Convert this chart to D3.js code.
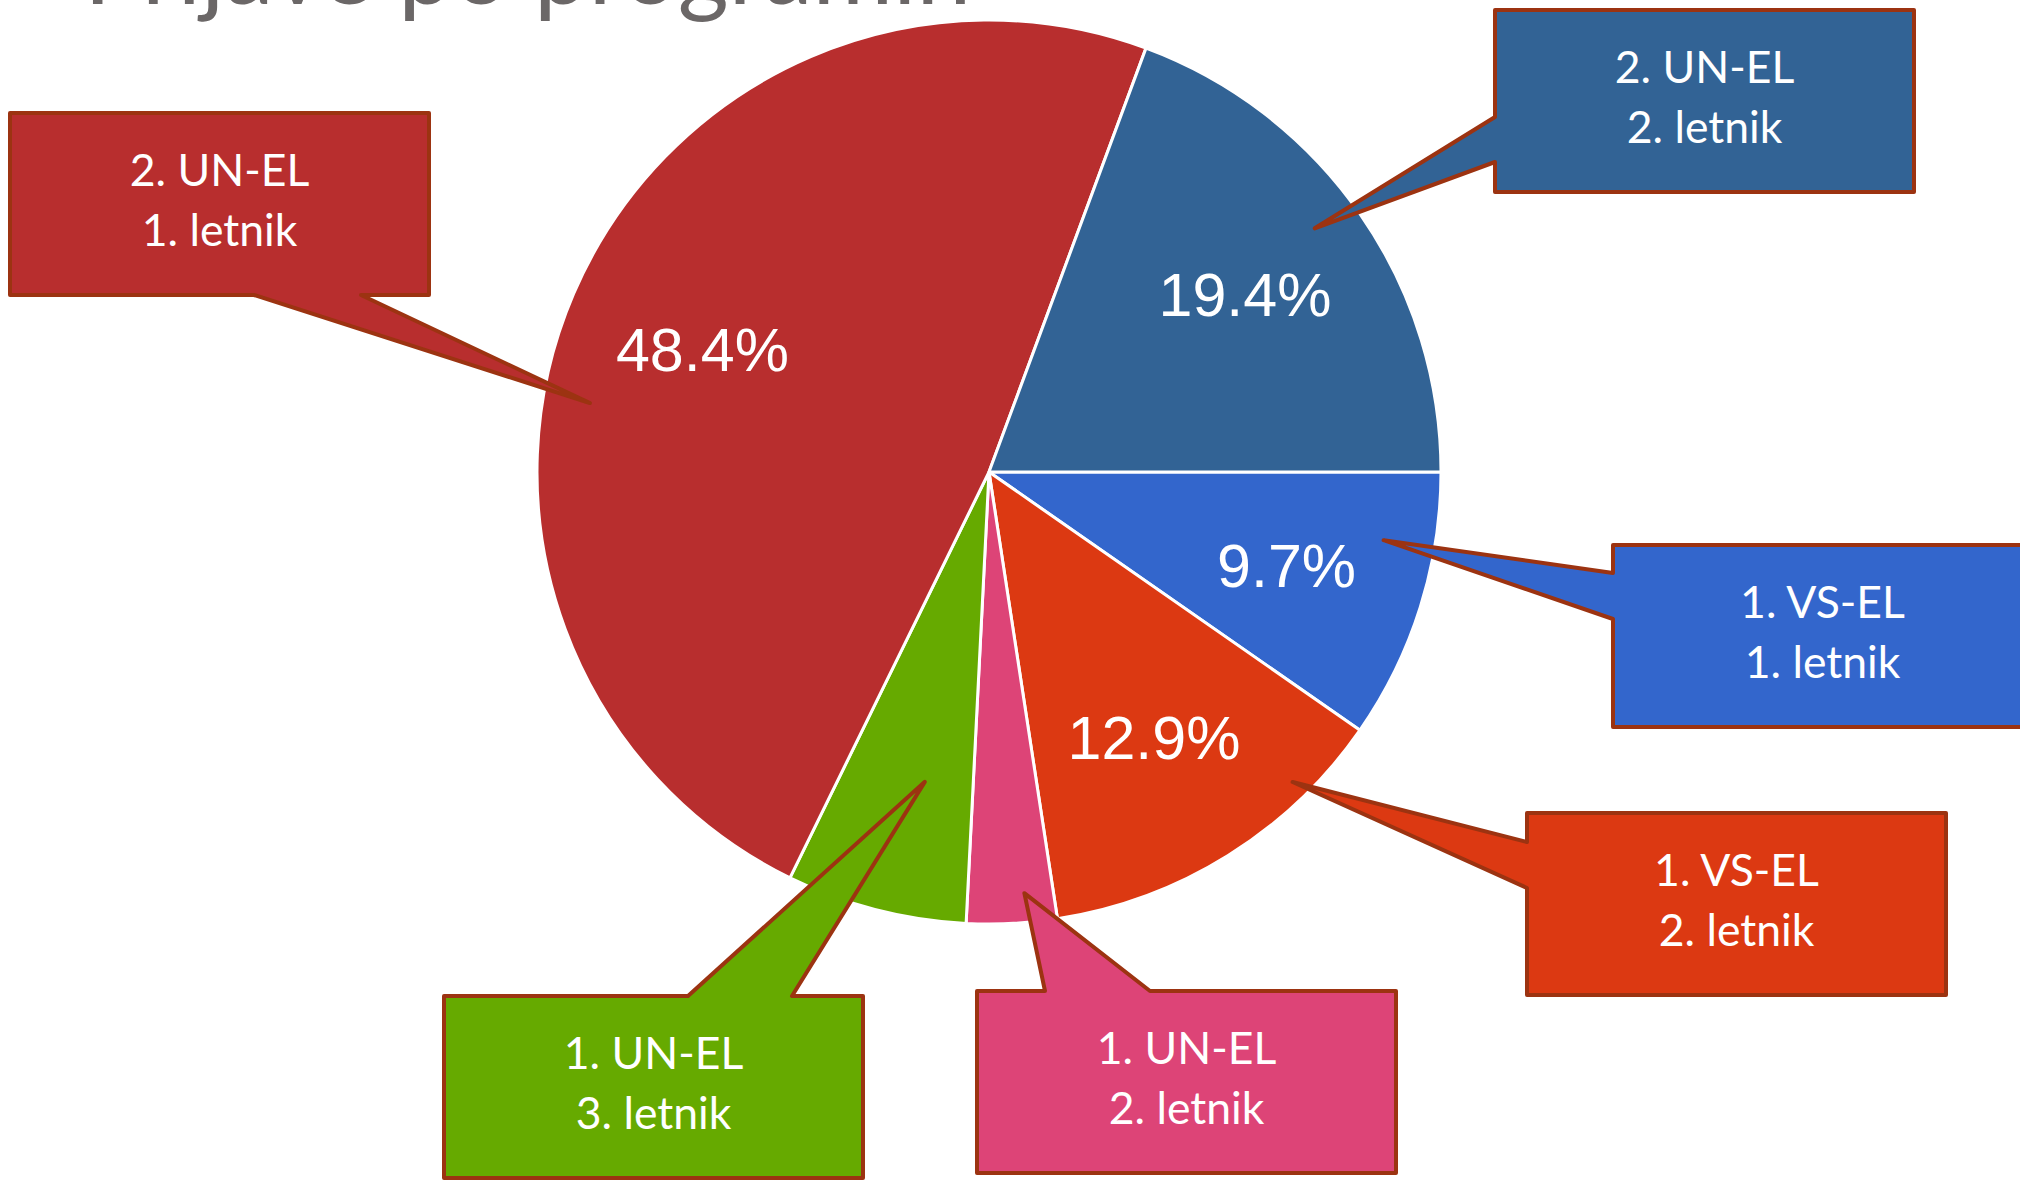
<!DOCTYPE html>
<html>
<head>
<meta charset="utf-8">
<script src="https://cdn.jsdelivr.net/npm/d3@7"></script>
<style>
  html, body { margin: 0; padding: 0; background: #ffffff; }
  svg { display: block; }
</style>
</head>
<body>
<script>
// ---------------- DATA ----------------
const programs = ["1. VS-EL", "1. VS-EL", "1. UN-EL", "1. UN-EL", "2. UN-EL", "2. UN-EL"];
const years    = ["1. letnik", "2. letnik", "2. letnik", "3. letnik", "1. letnik", "2. letnik"];
const counts   = [3, 4, 1, 2, 15, 6];
const colors   = ["#3366cc", "#dc3912", "#dd4477", "#66aa00", "#b82e2e", "#326395"];
const titleText = "Prijave po programih";

// ---------------- LAYOUT ----------------
const W = 2020, H = 1180;
const cx = 989, cy = 472, R = 452;
const boxW = 419, boxH = 182;
// callout boxes: position, side of the pointer, pointer base, tip in pie polar coords (deg clockwise from 12, fraction of R)
const calloutX    = [1613, 1527, 977, 444, 10, 1495];
const calloutY    = [545, 813, 991, 996, 113, 10];
const calloutSide = ["left", "left", "top", "top", "bottom", "left"];
const calloutB0   = [573, 842, 1045, 688, 254, 117];
const calloutB1   = [619, 888, 1150, 792, 361, 162];
const tipAngle    = [99.8, 135.6, 175.2, 191.7, 279.8, 53.2];
const tipRadius   = [0.886, 0.96, 0.935, 0.70, 0.896, 0.90];

const total = d3.sum(counts);
const data = counts.map((v, i) => ({ i, value: v, program: programs[i], year: years[i], color: colors[i] }));

const svg = d3.select("body").append("svg")
  .attr("width", W).attr("height", H)
  .attr("viewBox", `0 0 ${W} ${H}`);

// title (cut off at the top of the frame, as in the reference)
svg.append("text")
  .attr("x", 84).attr("y", 4)
  .attr("font-family", "Lato, 'Open Sans', sans-serif")
  .attr("font-weight", 400)
  .attr("font-size", 98)
  .attr("fill", "#6b6767")
  .text(titleText);

const pie = d3.pie().sort(null).value(d => d.value)
  .startAngle(Math.PI / 2).endAngle(Math.PI / 2 + 2 * Math.PI);
const arcs = pie(data);
const arc = d3.arc().innerRadius(0).outerRadius(R);
const labelArc = d3.arc().innerRadius(R * 0.69).outerRadius(R * 0.69);

const g = svg.append("g").attr("transform", `translate(${cx},${cy})`);
g.selectAll("path.slice").data(arcs).join("path")
  .attr("class", "slice")
  .attr("d", arc)
  .attr("fill", d => d.data.color)
  .attr("stroke", "#ffffff")
  .attr("stroke-width", 3)
  .attr("stroke-linejoin", "round");

const fmt = d3.format(".1%");
const fs = 61;
g.selectAll("text.pct").data(arcs.filter(d => d.data.value / total >= 0.08)).join("text")
  .attr("class", "pct")
  .attr("x", d => labelArc.centroid(d)[0])
  .attr("y", d => labelArc.centroid(d)[1] + fs * 0.358)
  .attr("text-anchor", "middle")
  .attr("font-family", "'Liberation Sans', Arial, sans-serif")
  .attr("font-size", fs)
  .attr("fill", "#ffffff")
  .text(d => fmt(d.data.value / total));

// callouts
function tipPoint(i) {
  const a = tipAngle[i] * Math.PI / 180;
  const r = tipRadius[i] * R;
  return [cx + r * Math.sin(a), cy - r * Math.cos(a)];
}
function calloutPath(i) {
  const x = calloutX[i], y = calloutY[i], w = boxW, h = boxH;
  const b0 = calloutB0[i], b1 = calloutB1[i];
  const t = tipPoint(i);
  let pts;
  if (calloutSide[i] === "left") {
    pts = [[x, y], [x + w, y], [x + w, y + h], [x, y + h], [x, b1], t, [x, b0]];
  } else if (calloutSide[i] === "top") {
    pts = [[x, y], [b0, y], t, [b1, y], [x + w, y], [x + w, y + h], [x, y + h]];
  } else {
    pts = [[x, y], [x + w, y], [x + w, y + h], [b1, y + h], t, [b0, y + h], [x, y + h]];
  }
  return d3.line()(pts) + "Z";
}

const cg = svg.append("g");
const callouts = cg.selectAll("g.callout").data(data).join("g").attr("class", "callout");
callouts.append("path")
  .attr("d", d => calloutPath(d.i))
  .attr("fill", d => d.color)
  .attr("stroke", "#9c3311")
  .attr("stroke-width", 4)
  .attr("stroke-linejoin", "round");
const ct = callouts.append("text")
  .attr("text-anchor", "middle")
  .attr("font-family", "Lato, 'Open Sans', sans-serif")
  .attr("font-size", 44.5)
  .attr("fill", "#ffffff");
ct.append("tspan")
  .attr("x", d => calloutX[d.i] + boxW / 2)
  .attr("y", d => calloutY[d.i] + 72.5)
  .text(d => d.program);
ct.append("tspan")
  .attr("x", d => calloutX[d.i] + boxW / 2)
  .attr("y", d => calloutY[d.i] + 133)
  .text(d => d.year);
</script>
</body>
</html>
